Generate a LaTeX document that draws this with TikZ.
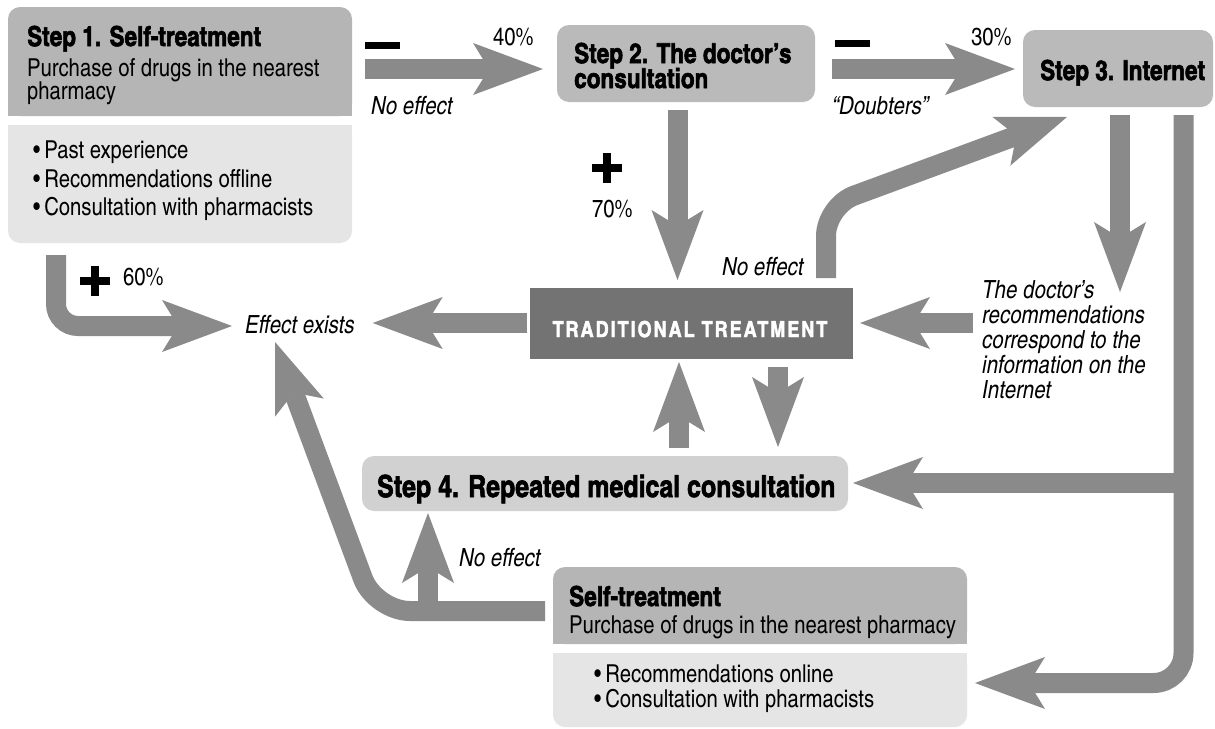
\documentclass[tikz,border=0pt]{standalone}
\usepackage{fontspec}
\setmainfont{texgyreheroscn}[
  Extension=.otf,
  UprightFont=*-regular,
  BoldFont=*-bold,
  ItalicFont=*-italic,
  BoldItalicFont=*-bolditalic,
  BoldFeatures={FakeBold=2}]
\usetikzlibrary{arrows.meta}

\definecolor{arrowgray}{gray}{0.54}
\definecolor{gmid}{gray}{0.71}
\definecolor{gstep}{gray}{0.73}
\definecolor{gpale}{gray}{0.82}
\definecolor{glight}{gray}{0.90}
\definecolor{gdark}{gray}{0.45}

\tikzset{
  fat/.style={draw=arrowgray, line width=20pt, rounded corners=#1,
    -{Stealth[length=70pt, width=52pt, inset=16pt, line width=0pt]}},
  fat/.default=30pt,
  box/.style={inner sep=0pt, outer sep=0pt, anchor=north west, rounded corners=12pt},
  txt/.style={inner sep=0pt, anchor=base west, font=\fontsize{24.7}{25}\selectfont},
  ttl/.style={txt, font=\fontsize{27.5}{28}\selectfont\bfseries},
  note/.style={txt, font=\fontsize{25}{26}\selectfont\itshape},
  sign/.style={fill=black}
}

\begin{document}
\begin{tikzpicture}[x=1pt, y=-1pt]
\useasboundingbox (0,0) rectangle (1215,728);
\fill[white] (0,0) rectangle (1215,728);

% ---------- boxes ----------
\node[box, fill=gmid, minimum width=344pt, minimum height=109pt] (s1top) at (8,7) {};
\fill[gmid] (s1top.west) rectangle (s1top.south east);
\node[box, fill=glight, minimum width=344pt, minimum height=118pt] (s1bot) at (8,125) {};
\fill[glight] (s1bot.north west) rectangle (s1bot.east);

\node[box, fill=gstep, minimum width=258pt, minimum height=77pt] (s2) at (557,25) {};
\node[box, fill=gstep, minimum width=190pt, minimum height=77pt] (s3) at (1023,30) {};
\node[box, fill=gpale, minimum width=486pt, minimum height=55pt] (s4) at (362,456) {};
\node[box, sharp corners, fill=gdark, minimum width=323pt, minimum height=71pt] (tt) at (530,288) {};

\node[box, fill=gmid, minimum width=414pt, minimum height=77pt] (sttop) at (553,567) {};
\fill[gmid] (sttop.west) rectangle (sttop.south east);
\node[box, fill=glight, minimum width=414pt, minimum height=74pt] (stbot) at (553,653) {};
\fill[glight] (stbot.north west) rectangle (stbot.east);

% ---------- labels ----------
\node[note] (effect) at (245,333) {Effect exists};
\node[txt] (l40) at (493,45) {40\%};
\node[note] (nofx1) at (371,114) {No effect};
\node[txt] (l30) at (971,45) {30\%};
\node[note] (doubt) at (832,114) {“Doubters”};
\node[txt] (l70) at (592,217) {70\%};
\node[note] (nofx2) at (722,275) {No effect};
\node[txt] (l60) at (123,285) {60\%};
\node[note] (nofx3) at (459,566) {No effect};
\node[note] (doc1) at (982,298) {The doctor’s};
\node[note] (doc2) at (982,323) {recommendations};
\node[note] (doc3) at (982,348) {correspond to the};
\node[note] (doc4) at (982,373) {information on the};
\node[note] (doc5) at (982,398) {Internet};

% ---------- signs ----------
\fill[sign] (365,42) rectangle (400,49);
\fill[sign] (835,40) rectangle (870,47);
\fill[sign] (592,164) rectangle (622,172);
\fill[sign] (603,153) rectangle (611,183);
\fill[sign] (80,277) rectangle (110,285);
\fill[sign] (91,266) rectangle (99,296);

% ---------- connectors ----------
\coordinate (a1) at (365,69);
\draw[fat, shorten >=14pt] (a1) -- (a1 -| s2.west);
\coordinate (a2) at (832,69);
\draw[fat, shorten >=8pt] (a2) -- (a2 -| s3.west);
\coordinate (a3) at (677.5,110);
\draw[fat, shorten >=8pt] (a3) -- (a3 |- tt.north);
\coordinate (a4) at (826,278);
\coordinate (a4c) at (826,206);
\coordinate (a4t) at (1067,117);
\draw[fat] (a4) -- (a4c) -- (a4t);
\coordinate (a5) at (1120,115);
\coordinate (a5t) at (1120,292);
\draw[fat] (a5) -- (a5t);
\coordinate (a6) at (973,323);
\draw[fat, shorten >=7pt] (a6) -- (a6 -| tt.east);
\coordinate (a7) at (527,323);
\draw[fat, shorten >=18pt] (a7) -- (a7 -| effect.east);

\coordinate (b1) at (56,255);
\coordinate (b1c) at (56,326);
\draw[fat=22pt, shorten >=13pt] (b1) -- (b1c) -- (b1c -| effect.west);

\coordinate (c1) at (778,367);
\draw[fat, shorten >=9pt] (c1) -- (c1 |- s4.north);
\coordinate (c2) at (679,448);
\draw[fat, shorten >=3pt] (c2) -- (c2 |- tt.south);

\coordinate (d1) at (1183.5,115);
\coordinate (d1c) at (1183.5,683);
\draw[fat=30pt, shorten >=8pt] (d1) -- (d1c) -- (d1c -| stbot.east);
\coordinate (d2) at (1183.5,483);
\draw[fat, shorten >=5pt] (d2) -- (d2 -| s4.east);

\coordinate (e1) at (545,611);
\coordinate (e1c) at (375,611);
\coordinate (e1t) at (275,342);
\draw[fat=35pt] (e1) -- (e1c) -- (e1t);
\coordinate (e2) at (428,605);
\draw[fat, shorten >=2pt] (e2) -- (e2 |- s4.south);

% ---------- box texts ----------
\node[ttl] (s1t1) at (27,46) {Step 1. Self-treatment};
\node[txt] (s1t2) at (27,76) {Purchase of drugs in the nearest};
\node[txt] (s1t3) at (27,99) {pharmacy};
\node[txt] (s1b1) at (33,158) {•\hspace{4pt}Past experience};
\node[txt] (s1b2) at (33,187) {•\hspace{4pt}Recommendations offline};
\node[txt] (s1b3) at (33,215) {•\hspace{4pt}Consultation with pharmacists};

\node[ttl] (s2t1) at (574,63) {Step 2. The doctor’s};
\node[ttl] (s2t2) at (574,88) {consultation};
\node[ttl] (s3t) at (1040,80) {Step 3. Internet};
\node[txt, font=\fontsize{30.4}{31}\selectfont\bfseries] (s4t) at (377,497) {Step 4. Repeated medical consultation};
\node[inner sep=0pt, anchor=base, text=white, font=\fontsize{22}{23}\selectfont\bfseries\addfontfeature{LetterSpace=9}] (ttt) at (690,337) {TRADITIONAL TREATMENT};

\node[ttl] (stt1) at (569,606) {Self-treatment};
\node[txt] (stt2) at (569,633) {Purchase of drugs in the nearest pharmacy};
\node[txt] (stb1) at (594,682) {•\hspace{4pt}Recommendations online};
\node[txt] (stb2) at (594,707) {•\hspace{4pt}Consultation with pharmacists};
\end{tikzpicture}
\end{document}
